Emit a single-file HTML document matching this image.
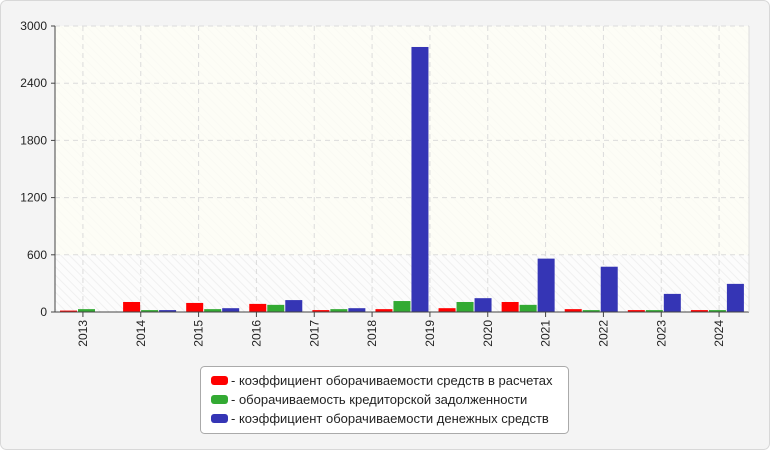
<!DOCTYPE html>
<html><head><meta charset="utf-8"><style>
body{margin:0;background:#fff;font-family:"Liberation Sans","DejaVu Sans",sans-serif}
</style></head><body>
<svg id="c" width="770" height="450" xmlns="http://www.w3.org/2000/svg">
<defs>
<pattern id="hatch" width="6" height="6" patternUnits="userSpaceOnUse" patternTransform="rotate(-45)">
<rect width="6" height="6" fill="#fcfcfc"/><line x1="0" y1="0" x2="0" y2="6" stroke="#f0f0f0" stroke-width="2"/>
</pattern>
</defs>
<rect x="0.5" y="0.5" width="769" height="449" rx="6" fill="#f4f4f4" stroke="#d8d8d8"/>
<rect x="55" y="26" width="694" height="286" fill="url(#hatch)"/>
<rect x="55" y="26" width="694" height="229" fill="#fdfdf4" opacity="0.8"/>
<g id="grid"></g>
<g id="bars"></g>
<g id="axes"></g>
<g>
<rect x="200.5" y="366.5" width="368" height="67" rx="4" fill="#fff" stroke="#aaa"/>
<rect x="211" y="376" width="17" height="9" rx="3" fill="#ff0000"/>
<text x="231" y="385" font-size="13" fill="#222">- коэффициент оборачиваемости средств в расчетах</text>
<rect x="211" y="395" width="17" height="9" rx="3" fill="#33aa33"/>
<text x="231" y="404" font-size="13" fill="#222">- оборачиваемость кредиторской задолженности</text>
<rect x="211" y="414" width="17" height="9" rx="3" fill="#3535b5"/>
<text x="231" y="423" font-size="13" fill="#222">- коэффициент оборачиваемости денежных средств</text>
</g>
</svg>
<script>
const categories=["2013","2014","2015","2016","2017","2018","2019","2020","2021","2022","2023","2024"];
const redSeries=[15,105,95,85,20,30,40,105,30,20,20];
const greenSeries=[30,20,30,75,30,115,105,75,20,20,20];
const blueSeries=[0,20,40,125,40,2780,145,560,475,190,295];
const yTicks=[0,600,1200,1800,2400,3000];
</script>
<script>
(function(){
const NS="http://www.w3.org/2000/svg";
const X0=55,W=694,Y0=312,H=286,MAX=3000;
const n=categories.length,tw=W/n;
const m=redSeries.length,gw=W/m;
const y=v=>Y0-v/MAX*H;
const g=document.getElementById('grid'),b=document.getElementById('bars'),a=document.getElementById('axes');
function el(t,at,p){const e=document.createElementNS(NS,t);for(const k in at)e.setAttribute(k,at[k]);p.appendChild(e);return e;}
yTicks.forEach(t=>{
 if(t>0){const l=el('line',{x1:X0,x2:X0+W,y1:y(t),y2:y(t),stroke:'#dcdcdc','stroke-dasharray':'5,4'},g);
 
 }
 el('line',{x1:X0-4,x2:X0,y1:y(t),y2:y(t),stroke:'#444'},a);
 const tx=el('text',{x:X0-8,y:y(t)+4,'text-anchor':'end','font-size':'12',fill:'#222'},a);
 tx.textContent=t;
 
 
});
const sets=[[redSeries,'#ff0000','receivables'],[greenSeries,'#33aa33','payables'],[blueSeries,'#3535b5','cash']];
for(let i=0;i<m;i++){
 sets.forEach((s,j)=>{
  const v=s[0][i];if(!v)return;
  const r=el('rect',{x:X0+5+i*gw+j*18,y:y(v),width:17,height:Y0-y(v),fill:s[1]},b);
  
  
 });
}
categories.forEach((c,i)=>{
 const cx=X0+(i+0.5)*tw-1;
 el('line',{x1:cx,x2:cx,y1:26,y2:Y0,stroke:'#dcdcdc','stroke-dasharray':'5,4'},g);
 el('line',{x1:cx,x2:cx,y1:Y0,y2:Y0+5,stroke:'#444'},a);
 const t=el('text',{x:0,y:0,'font-size':'12',fill:'#222','text-anchor':'end',transform:`translate(${cx+4},${Y0+8}) rotate(-90)`},a);
 t.textContent=c;
 
 
});
el('line',{x1:X0,x2:X0,y1:26,y2:Y0,stroke:'#444'},a);
el('line',{x1:X0,x2:X0+W,y1:Y0,y2:Y0,stroke:'#444'},a);
el('line',{x1:X0+W,x2:X0+W,y1:26,y2:Y0,stroke:'#ddd'},a);
})();
</script>
</body></html>
